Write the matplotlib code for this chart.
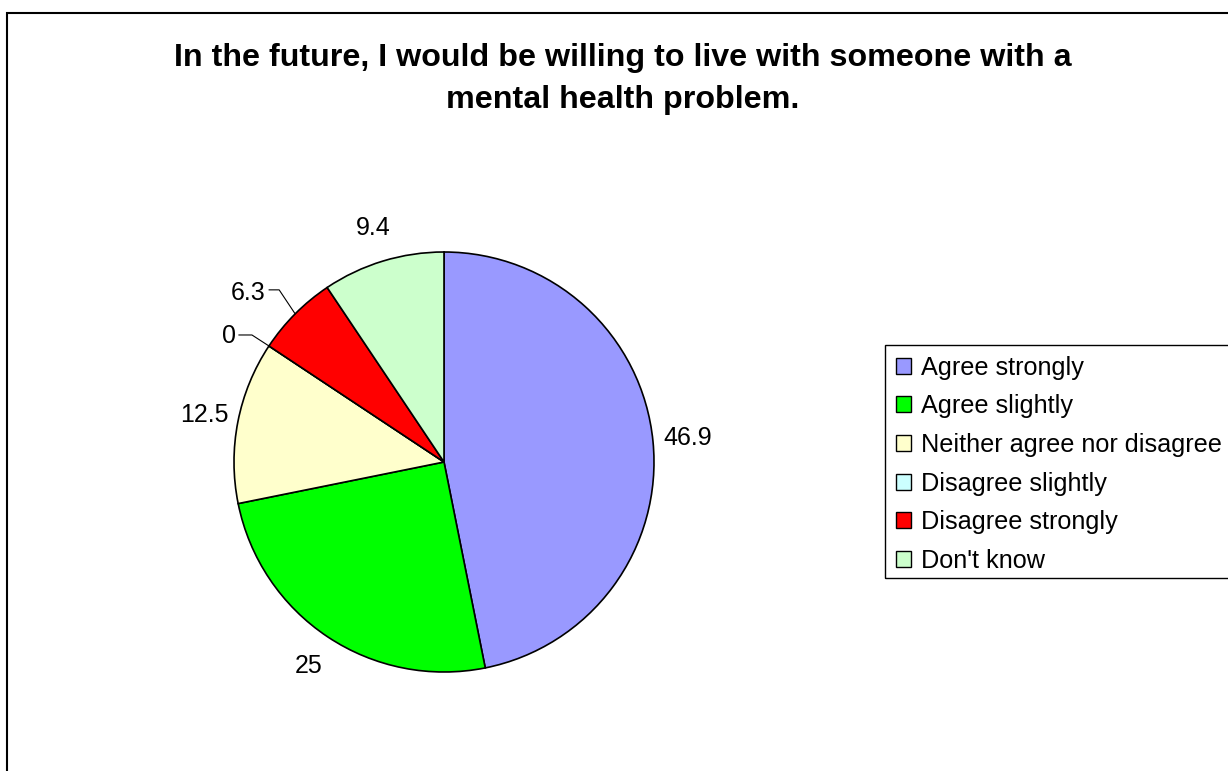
import numpy as np
import matplotlib.pyplot as plt
from matplotlib.patches import Patch, Rectangle

categories = ["Agree strongly", "Agree slightly", "Neither agree nor disagree",
              "Disagree slightly", "Disagree strongly", "Don't know"]
values = [46.9, 25, 12.5, 0, 6.3, 9.4]
colors = ["#9999FF", "#00FF00", "#FFFFCC", "#CCFFFF", "#FF0000", "#CCFFCC"]
title = "In the future, I would be willing to live with someone with a\nmental health problem."

plt.rcParams['font.family'] = ['Liberation Sans', 'DejaVu Sans']

W, H = 1228, 771
fig = plt.figure(figsize=(W / 100, H / 100), dpi=100)

# outer chart border, cut off on the right and bottom
fig.add_artist(Rectangle((7 / W, -0.05), 1.1, 1 - 13 / H + 0.05, transform=fig.transFigure,
                         fill=False, edgecolor='black', linewidth=1.5, clip_on=False))

fig.text(623 / W, 1 - 79 / H, title, ha='center', va='center', fontsize=23.2,
         fontweight='bold', linespacing=1.55)

# pie centre and radius in pixels
cx, cy, R = 444, 462, 210
span = 1.5
ax = fig.add_axes([(cx - R * span) / W, (H - cy - R * span) / H,
                   2 * R * span / W, 2 * R * span / H])

wedges, _ = ax.pie(values, colors=colors, startangle=90, counterclock=False,
                   wedgeprops=dict(edgecolor='black', linewidth=1.2))
ax.set_xlim(-span, span)
ax.set_ylim(-span, span)
ax.axis('off')

# small slices get their label pulled aside with a leader line (pixel offsets from the rim)
leaders = {
    3: ((-40, 10), (-30, 11), (-17, 11)),
    4: ((-47, 21), (-26, 24), (-16, 24)),
}

px = 1 / R
for i, (w, v) in enumerate(zip(wedges, values)):
    mid = np.deg2rad((w.theta1 + w.theta2) / 2)
    ex, ey = np.cos(mid), np.sin(mid)
    if i in leaders:
        (tx, ty), (lx, ly), (bx, by) = leaders[i]
        ax.plot([ex + lx * px, ex + bx * px, ex], [ey + ly * px, ey + by * px, ey],
                color='black', linewidth=0.8)
        ax.text(ex + tx * px, ey + ty * px, f"{v:g}", ha='center', va='center', fontsize=18)
    else:
        ax.text(1.165 * ex, 1.165 * ey, f"{v:g}", ha='center', va='center', fontsize=18)

handles = [Patch(facecolor=c, edgecolor='black', linewidth=1) for c in colors]
fig.legend(handles, categories, loc='upper left', bbox_to_anchor=(885 / W, 1 - 345 / H),
           frameon=False, fontsize=18.2, handlelength=0.6, handleheight=0.6,
           handletextpad=0.4, labelspacing=0.58, borderpad=0.42, borderaxespad=0)
fig.add_artist(Rectangle((885 / W, 1 - 578 / H), 0.5, (578 - 345) / H, transform=fig.transFigure,
                         fill=False, edgecolor='black', linewidth=1, clip_on=False))

fig.savefig("out.png", dpi=100)
